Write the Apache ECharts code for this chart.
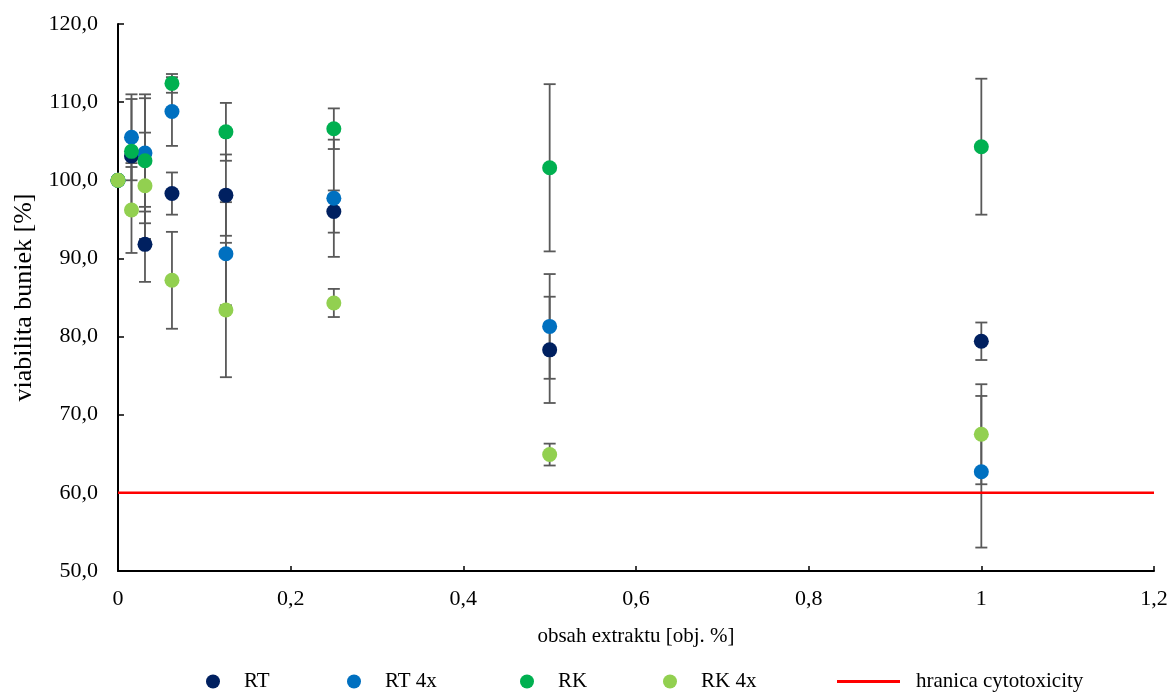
<!DOCTYPE html>
<html>
<head>
<meta charset="utf-8">
<script src="https://cdn.jsdelivr.net/npm/echarts@6/dist/echarts.min.js"></script>
<style>html,body{margin:0;padding:0;background:#fff;}#c{width:1172px;height:693px;}</style>
</head>
<body>
<div id="c"></div>
<script>
// ---- data ----
const xValues = [0, 0.015625, 0.03125, 0.0625, 0.125, 0.25, 0.5, 1];
const seriesNames = ['RT', 'RT 4x', 'RK', 'RK 4x'];
const RT       = [100, 103.1, 91.8, 98.3, 98.1, 96.0, 78.3, 79.4];
const RT_err   = [0, 7.3, 4.8, 2.7, 5.2, 2.7, 6.8, 2.4];
const RT4x     = [100, 105.5, 103.5, 108.8, 90.6, 97.7, 81.3, 62.7];
const RT4x_err = [0, 5.5, 7.5, 4.4, 6.6, 7.5, 6.7, 9.7];
const RK       = [100, 103.7, 102.5, 112.4, 106.2, 106.6, 101.6, 104.3];
const RK_err   = [0, 1.5, 8.0, 1.2, 3.7, 2.6, 10.7, 8.7];
const RK4x     = [100, 96.2, 99.3, 87.2, 83.4, 84.3, 64.9, 67.5];
const RK4x_err = [0, 5.5, 6.8, 6.2, 8.6, 1.8, 1.4, 6.4];
const thresholdName = 'hranica cytotoxicity';
const thresholdValue = 60;
const xRange = [0, 1.2];
const yRange = [50, 120];

const values = [RT, RT4x, RK, RK4x];
const errors = [RT_err, RT4x_err, RK_err, RK4x_err];
const colors = ['#002060', '#0070C0', '#00B050', '#92D050'];
const FONT = 'Liberation Serif';

const fmt = (v, d) => {
  return d ? v.toFixed(d).replace('.', ',') : String(+v.toFixed(1)).replace('.', ',');
};

const series = [];
// error bars first (below markers)
values.forEach((vals, i) => {
  series.push({
    type: 'custom',
    name: seriesNames[i] + ' err',
    silent: true,
    z: 1,
    data: xValues.map((x, j) => [x, vals[j] - errors[i][j], vals[j] + errors[i][j]]),
    renderItem: function (params, api) {
      const lo = api.value(1), hi = api.value(2);
      if (hi - lo <= 0) return null;
      const p1 = api.coord([api.value(0), lo]);
      const p2 = api.coord([api.value(0), hi]);
      const w = 6;
      const st = { stroke: '#595959', lineWidth: 1.8 };
      return {
        type: 'group',
        children: [
          { type: 'line', shape: { x1: p1[0], y1: p1[1], x2: p2[0], y2: p2[1] }, style: st },
          { type: 'line', shape: { x1: p1[0] - w, y1: p1[1], x2: p1[0] + w, y2: p1[1] }, style: st },
          { type: 'line', shape: { x1: p2[0] - w, y1: p2[1], x2: p2[0] + w, y2: p2[1] }, style: st }
        ]
      };
    }
  });
});
values.forEach((vals, i) => {
  series.push({
    type: 'scatter',
    name: seriesNames[i],
    symbol: 'circle',
    symbolSize: 15,
    z: 3,
    itemStyle: { color: colors[i], opacity: 1 },
    data: xValues.map((x, j) => [x, vals[j]])
  });
});
series.push({
  type: 'line',
  name: thresholdName,
  showSymbol: false,
  symbol: 'none',
  z: 2,
  lineStyle: { color: '#FF0000', width: 2.5 },
  itemStyle: { color: '#FF0000' },
  data: [[xRange[0], thresholdValue], [xRange[1], thresholdValue]]
});

const legendCenters = [232, 373, 546, 689];
const legends = seriesNames.map((n, i) => ({
  data: [n],
  left: legendCenters[i] - 26,
  top: 671,
  padding: 0,
  itemWidth: 52,
  itemHeight: 14,
  icon: 'circle',
  selectedMode: false,
  textStyle: { fontFamily: FONT, fontSize: 21, color: '#000' }
}));
legends.push({
  data: [{ name: thresholdName, icon: 'rect', itemStyle: { color: '#FF0000' } }],
  left: 837,
  top: 671,
  padding: 0,
  itemWidth: 63,
  itemHeight: 3,
  selectedMode: false,
  textStyle: { fontFamily: FONT, fontSize: 21, color: '#000', padding: [0, 0, 0, 11] }
});

const option = {
  animation: false,
  backgroundColor: '#fff',
  grid: { left: 118, right: 18, top: 24, bottom: 122, containLabel: false },
  legend: legends,
  xAxis: {
    type: 'value',
    min: xRange[0], max: xRange[1], interval: 0.2,
    name: 'obsah extraktu [obj. %]',
    nameLocation: 'middle',
    nameGap: 55,
    nameTextStyle: { fontFamily: FONT, fontSize: 21, color: '#000' },
    axisLine: { show: true, lineStyle: { color: '#000', width: 2 } },
    axisTick: { show: true, inside: true, length: 5, lineStyle: { color: '#000', width: 1.5 } },
    splitLine: { show: false },
    axisLabel: { fontFamily: FONT, fontSize: 22, color: '#000', margin: 17, formatter: v => fmt(v) }
  },
  yAxis: {
    type: 'value',
    min: yRange[0], max: yRange[1], interval: 10,
    name: 'viabilita buniek [%]',
    nameLocation: 'middle',
    nameGap: 79,
    nameTextStyle: { fontFamily: FONT, fontSize: 26, color: '#000' },
    axisLine: { show: true, lineStyle: { color: '#000', width: 2 } },
    axisTick: { show: true, inside: true, length: 6, lineStyle: { color: '#000', width: 1.5 } },
    splitLine: { show: false },
    axisLabel: { fontFamily: FONT, fontSize: 22, color: '#000', margin: 20, formatter: v => fmt(v, 1) }
  },
  series: series
};

const chart = echarts.init(document.getElementById('c'), null, { renderer: 'canvas' });
chart.setOption(option);
</script>
</body>
</html>
